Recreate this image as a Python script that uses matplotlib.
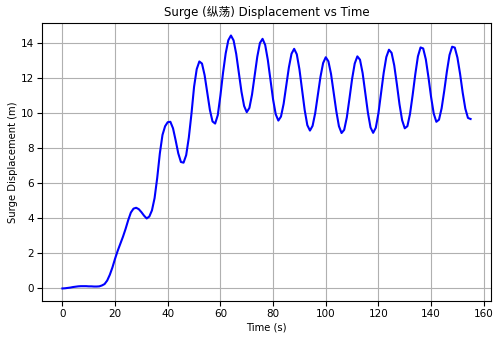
import numpy as np
import matplotlib
matplotlib.use("Agg")
import matplotlib.pyplot as plt

plt.rcParams['font.family'] = ['DejaVu Sans', 'Noto Sans CJK SC']

# time in seconds, one sample per second
time_s = np.arange(0, 156)

# surge displacement (m), one value per second
surge_m = [
    0.00, 0.01, 0.03, 0.05, 0.08, 0.10, 0.12, 0.13, 0.13, 0.13,   # 0-9
    0.12, 0.12, 0.11, 0.11, 0.12, 0.17, 0.25, 0.45, 0.78, 1.20,   # 10-19
    1.70, 2.15, 2.55, 2.95, 3.40, 3.90, 4.33, 4.55, 4.60, 4.52,   # 20-29
    4.35, 4.15, 3.99, 4.10, 4.45, 5.15, 6.30, 7.70, 8.75, 9.25,   # 30-39
    9.48, 9.50, 9.13, 8.44, 7.70, 7.21, 7.17, 7.60, 8.60, 9.95,   # 40-49
    11.50, 12.50, 12.94, 12.82, 12.16, 11.17, 10.18, 9.52, 9.40, 9.88,   # 50-59
    11.00, 12.30, 13.40, 14.15, 14.42, 14.14, 13.37, 12.29, 11.21, 10.40,  # 60-69
    10.05, 10.29, 11.05, 12.14, 13.21, 13.99, 14.23, 13.88, 13.03, 11.90,  # 70-79
    10.77, 9.93, 9.57, 9.80, 10.52, 11.56, 12.60, 13.38, 13.66, 13.35,    # 80-89
    12.50, 11.33, 10.17, 9.31, 9.00, 9.27, 10.00, 11.04, 12.07, 12.85,    # 90-99
    13.18, 12.95, 12.23, 11.18, 10.11, 9.25, 8.86, 9.04, 9.75, 10.82,     # 100-109
    11.94, 12.82, 13.23, 13.04, 12.28, 11.17, 10.03, 9.18, 8.87, 9.16,    # 110-119
    9.98, 11.13, 12.29, 13.19, 13.61, 13.43, 12.72, 11.65, 10.50, 9.59,   # 120-129
    9.13, 9.25, 9.95, 11.03, 12.21, 13.23, 13.74, 13.68, 13.06, 12.04,    # 130-139
    10.91, 9.97, 9.50, 9.62, 10.27, 11.27, 12.37, 13.31, 13.78, 13.73,    # 140-149
    13.16, 12.24, 11.16, 10.25, 9.72, 9.66,                               # 150-155
]

fig = plt.figure(figsize=(5, 3.41), dpi=100)
ax = fig.add_axes([0.084, 0.117, 0.898, 0.816])

ax.plot(time_s, surge_m, color='blue', linewidth=1.5)

ax.set_title('Surge (纵荡) Displacement vs Time', fontsize=8.5, pad=5)
ax.set_xlabel('Time (s)', fontsize=7.2, labelpad=2)
ax.set_ylabel('Surge Displacement (m)', fontsize=7.2, labelpad=2)
ax.tick_params(labelsize=7.5, pad=2.5)
ax.grid(True)

fig.savefig('out.png')
